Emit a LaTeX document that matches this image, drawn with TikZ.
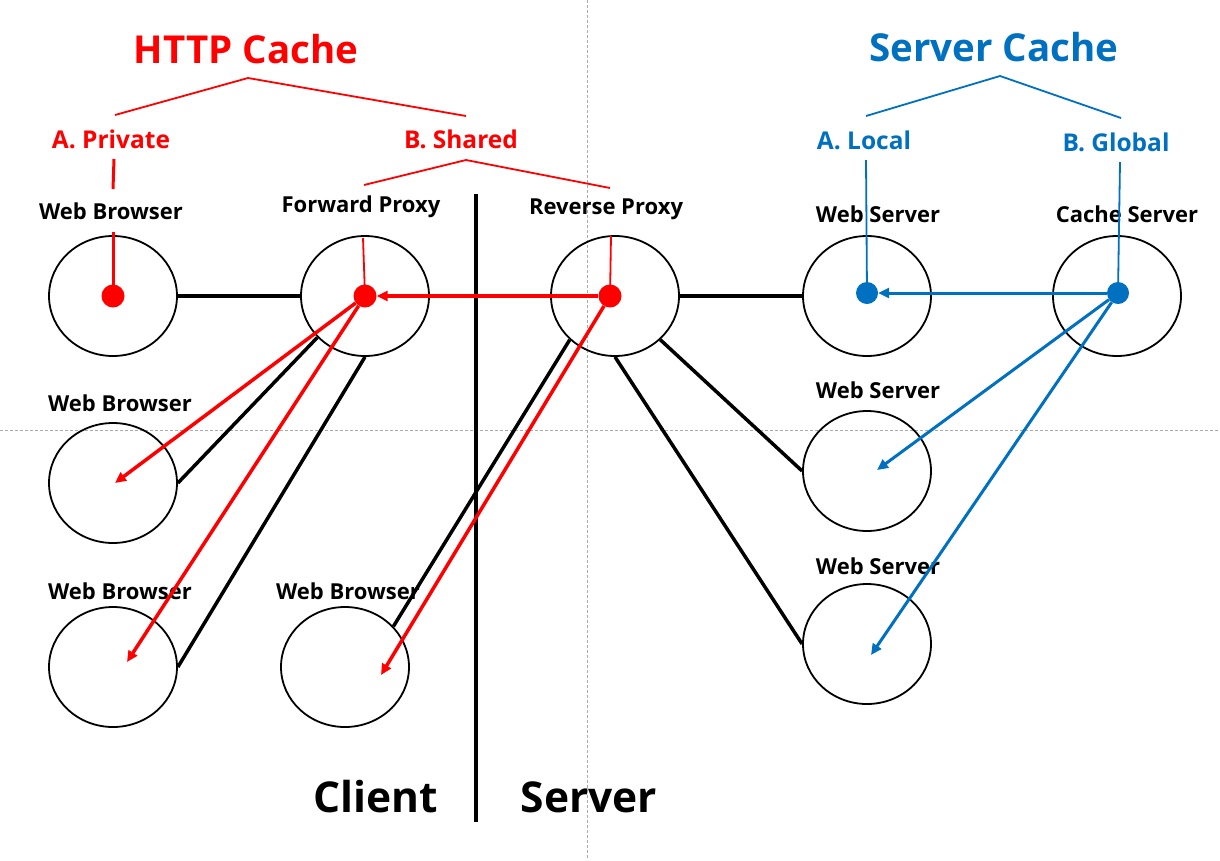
\documentclass[tikz,border=0pt]{standalone}
\usepackage{fontspec}
\setmainfont{Open Sans}
\usetikzlibrary{shapes.geometric,arrows.meta}
\definecolor{cred}{RGB}{255,0,0}
\definecolor{cblue}{RGB}{0,112,192}
\definecolor{cgray}{RGB}{170,170,170}
\begin{document}
\begin{tikzpicture}[x=1pt,y=-1pt,
  ell/.style={draw,ellipse,line width=1.8pt,minimum width=128pt,minimum height=120pt,inner sep=0pt},
  lbl/.style={font=\fontsize{22}{25}\selectfont\bfseries,inner sep=0pt},
  big/.style={font=\fontsize{38.5}{42}\selectfont\bfseries,inner sep=0pt},
  huge/.style={font=\fontsize{42.5}{48}\selectfont\bfseries,inner sep=0pt},
  sub/.style={font=\fontsize{24.5}{27}\selectfont\bfseries,inner sep=0pt},
  rdot/.style={circle,fill=cred,minimum size=23pt,inner sep=0pt},
  bdot/.style={circle,fill=cblue,minimum size=22pt,inner sep=0pt},
  link/.style={line width=3.5pt,black},
  rarr/.style={line width=3.5pt,cred,-{Triangle[length=11pt,width=10pt]}},
  barr/.style={line width=3pt,cblue,-{Triangle[length=11pt,width=10pt]}},
  rtree/.style={line width=1.8pt,cred},
  btree/.style={line width=1.8pt,cblue},
  guide/.style={cgray,line width=0.8pt,dash pattern=on 3pt off 2pt}]
\useasboundingbox (0,0) rectangle (1220,860);
\fill[white] (0,0) rectangle (1220,860);
% guide lines
\draw[guide] (587,0) -- (587,860);
\draw[guide] (0,430) -- (1220,430);
% divider
\coordinate (divtop) at (476,194);
\coordinate (divbot) at (476,822);
\draw[line width=4.5pt] (divtop) -- (divbot);
% ellipses
\node[ell] (wb1) at (113,296) {};
\node[ell] (fp) at (365,296) {};
\node[ell] (rp) at (615,296) {};
\node[ell] (ws1) at (867,296) {};
\node[ell] (cs) at (1117,296) {};
\node[ell] (wb2) at (113,483) {};
\node[ell] (wb3) at (113,667) {};
\node[ell] (wb4) at (345,667) {};
\node[ell] (ws2) at (867,471) {};
\node[ell] (ws3) at (867,644) {};
% labels
\node[lbl] (lwb1) at (111,211) {Web Browser};
\node[lbl] (lfp) at (361,207) {Forward Proxy};
\node[lbl] (lrp) at (606,209) {Reverse Proxy};
\node[lbl] (lws1) at (878,214) {Web Server};
\node[lbl] (lcs) at (1127,214) {Cache Server};
\node[lbl] (lwb2) at (120,403) {Web Browser};
\node[lbl] (lwb3) at (120,591) {Web Browser};
\node[lbl] (lwb4) at (348,591) {Web Browser};
\node[lbl] (lws2) at (878,390) {Web Server};
\node[lbl] (lws3) at (878,566) {Web Server};
\node[big,cred] (http) at (246,49) {HTTP Cache};
\node[big,cblue] (scache) at (994,47) {Server Cache};
\node[sub,cred] (priv) at (111,139) {A. Private};
\node[sub,cred] (shared) at (461,139) {B. Shared};
\node[sub,cblue] (local) at (864,140) {A. Local};
\node[sub,cblue] (global) at (1116,142) {B. Global};
\node[huge] (client) at (376,797) {Client};
\node[huge] (server) at (589,797) {Server};
% black links
\draw[link] (wb1.east) -- (fp.west);
\draw[link] (fp.221) -- (wb2.east);
\draw[link] (fp.south) -- (wb3.east);
\draw[link] (rp.224) -- (wb4.40);
\draw[link] (rp.east) -- (ws1.west);
\draw[link] (rp.316) -- (ws2.west);
\draw[link] (rp.south) -- (ws3.west);
% tree coordinates
\coordinate (hA) at (248,78);
\coordinate (hL) at (115,115);
\coordinate (hR) at (466,116);
\coordinate (pT) at (114,159);
\coordinate (pB) at (113,189);
\coordinate (sA) at (466,160);
\coordinate (sL) at (364,185);
\coordinate (sR) at (610,188);
\coordinate (wbTop) at (113,232);
\coordinate (fpTop) at (363,238);
\coordinate (rpTop) at (611,236);
\coordinate (cA) at (1000,76);
\coordinate (cL) at (866,116);
\coordinate (cR) at (1121,118);
\coordinate (lT) at (866,160);
\coordinate (gT) at (1120,162);
% dots
\node[rdot] (wb1d) at (113,296) {};
\node[rdot] (fpd) at (365,296) {};
\node[rdot] (rpd) at (610,296) {};
\node[bdot] (ws1d) at (867,293) {};
\node[bdot] (csd) at (1118,293) {};
% tree lines
\draw[rtree] (hL) -- (hA) -- (hR);
\draw[line width=3pt,cred] (pT) -- (pB);
\draw[rtree] (sL) -- (sA) -- (sR);
\draw[line width=3pt,cred] (wbTop) -- (wb1d.center);
\draw[rtree] (fpTop) -- (fpd.center);
\draw[rtree] (rpTop) -- (rpd.center);
\draw[btree] (cL) -- (cA) -- (cR);
\draw[btree] (lT) -- (ws1d.center);
\draw[btree] (gT) -- (csd.center);
% arrow targets
\coordinate (t2) at (115,483);
\coordinate (t3) at (127,662);
\coordinate (t4) at (381,675);
\coordinate (t5) at (877,470);
\coordinate (t6) at (871,655);
% red arrows
\draw[rarr] (rpd) -- (fpd);
\draw[rarr] (fpd) -- (t2);
\draw[rarr] (fpd) -- (t3);
\draw[rarr] (rpd) -- (t4);
% blue arrows
\draw[barr] (csd) -- (ws1d);
\draw[barr] (csd) -- (t5);
\draw[barr] (csd) -- (t6);
\end{tikzpicture}
\end{document}
